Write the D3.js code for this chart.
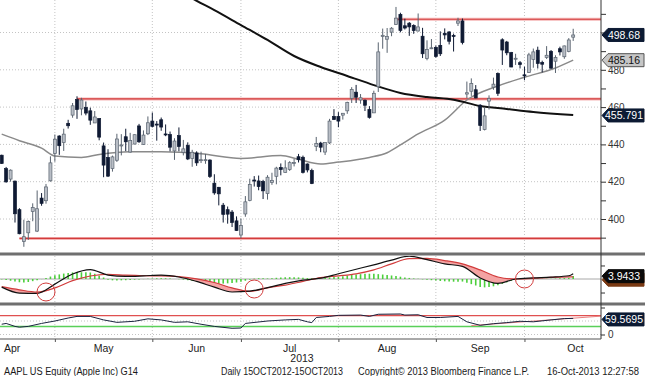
<!DOCTYPE html>
<html>
<head>
<meta charset="utf-8">
<script src="https://cdn.jsdelivr.net/npm/d3@7"></script>
<style>
  body { margin: 0; background: #fff; }
  svg { display: block; font-family: "Liberation Sans", Arial, sans-serif; }
</style>
</head>
<body>
<svg id="chart" width="645" height="376"></svg>
<script>
// Daily candles, 12-Apr-2013 .. 15-Oct-2013 (one entry per trading day)
const open  = [434.2,427.0,421.4,420.3,405.0,388.0,392.6,404.0,393.5,411.2,409.8,420.5,435.1,
  444.5,441.0,451.3,455.7,464.0,459.0,459.8,458.0,451.5,453.9,439.2,433.0,427.0,431.5,439.3,444.1,435.9,440.2,449.9,440.0,445.7,452.5,
  450.9,453.2,445.6,445.3,436.5,444.7,435.7,439.5,432.5,435.4,431.4,431.6,431.6,419.2,417.0,407.4,405.0,403.7,399.0,391.4,
  402.7,410.0,420.9,420.4,420.1,413.6,419.6,422.9,427.6,425.0,426.5,429.7,433.4,433.1,429.5,426.0,438.9,440.7,435.9,440.8,455.0,455.0,
  455.7,458.0,464.7,468.0,463.8,463.7,458.7,456.9,470.9,497.9,496.4,500.2,504.3,509.7,503.6,505.0,503.8,500.8,498.0,486.0,491.7,492.0,
  493.1,499.6,500.3,498.4,505.0,506.2,467.0,468.5,469.3,461.0,448.0,463.2,470.7,478.0,496.1,494.9,489.2,486.0,483.8,477.3,
  478.5,485.6,490.5,483.9,486.6,489.9,484.6,491.3,487.0,489.8,497.5];
const high  = [434.5,427.9,426.6,420.6,405.8,399.6,399.2,408.4,415.3,413.9,418.8,433.6,445.3,
  444.9,448.4,453.2,462.2,465.8,465.0,463.0,459.7,457.9,454.0,441.0,437.4,434.0,445.7,445.5,448.4,446.2,445.3,451.0,447.5,455.0,457.1,
  452.5,454.4,450.7,446.9,443.3,449.1,442.4,441.1,437.1,436.3,436.1,434.9,432.0,424.0,417.2,408.6,406.7,404.8,401.4,400.3,
  412.3,421.6,423.0,423.3,421.0,423.5,424.8,428.0,429.8,431.5,431.0,432.2,434.9,434.0,429.8,427.0,444.0,441.4,441.0,453.7,458.9,457.3,
  456.8,462.9,470.7,471.9,467.0,464.1,460.5,468.8,494.7,502.1,502.4,502.9,513.7,510.6,507.4,505.6,504.4,510.2,502.5,495.8,496.5,493.0,
  500.6,502.2,500.7,499.4,507.9,507.5,473.7,475.4,471.8,461.6,459.7,466.3,475.8,478.6,496.9,495.5,489.6,488.6,484.7,481.7,
  489.1,491.4,492.4,484.9,492.7,490.6,487.8,492.4,493.0,497.0,502.0];
const low   = [429.5,419.5,420.0,398.1,391.8,385.1,388.8,398.8,393.0,407.1,408.2,420.0,430.7,
  434.4,436.5,448.5,454.3,453.7,455.6,455.6,450.5,451.5,442.2,422.4,422.5,425.4,430.6,434.1,436.4,435.6,440.0,440.8,439.8,445.0,449.1,
  442.0,447.3,444.4,436.3,431.7,436.3,434.1,431.6,428.0,428.5,430.0,429.6,422.0,413.0,407.3,398.1,397.5,395.7,393.6,389.6,
  401.2,409.5,417.4,415.4,410.7,410.4,418.3,418.6,423.4,424.8,425.8,428.2,430.3,424.4,425.0,418.7,436.4,435.8,434.3,440.2,453.3,449.2,
  453.3,456.4,462.2,462.2,461.8,457.9,453.8,456.9,468.1,491.3,489.1,498.0,504.0,500.1,501.6,498.2,499.3,500.5,486.3,485.1,491.1,486.5,
  487.4,496.3,493.6,489.8,503.5,493.6,464.8,466.0,464.7,447.2,447.5,458.7,469.3,466.0,482.6,487.8,481.4,482.6,480.7,474.4,
  478.4,481.1,480.7,478.6,485.8,480.5,478.3,487.7,485.9,489.4,495.5];
const close = [429.8,419.9,426.2,402.8,392.1,390.5,398.7,406.1,405.5,408.4,417.2,430.1,442.8,
  439.3,445.5,450.0,460.7,458.7,463.8,456.8,453.0,454.7,443.9,428.9,423.0,433.3,442.9,439.7,441.4,442.1,445.2,441.4,445.0,451.6,449.7,
  450.7,449.3,445.1,438.5,441.8,438.9,437.6,432.2,435.8,430.1,431.8,431.8,422.8,414.0,413.5,402.5,402.6,398.1,393.8,396.5,
  409.2,418.5,420.8,417.4,415.1,422.4,420.7,427.3,426.5,427.4,430.2,430.3,431.8,425.0,426.3,419.0,440.5,438.5,441.0,452.5,453.3,452.5,
  456.7,462.5,469.5,465.3,465.0,461.0,454.5,467.4,489.6,498.5,497.9,502.3,507.7,501.1,502.4,503.0,501.0,503.0,488.6,490.9,491.8,487.2,
  488.6,498.7,495.3,498.2,506.2,494.6,467.7,472.7,464.9,450.1,455.3,464.7,472.3,467.4,490.6,489.1,481.5,486.2,482.8,476.8,
  488.0,489.6,483.4,483.0,487.8,480.9,486.6,489.6,492.8,496.0,498.68];

// Moving averages (sampled at trading-day index)
const ma200Idx = [40,42,44,48,54,60,66,72,78,84,90,96,102,108,114,120,129];
const ma200    = [522.5,519.6,517,512,504,496,487.4,481.5,476.7,471.8,467.6,465.4,464,460.6,459,457.4,455.791];
const ma50Idx  = [0,4,9,12,18,22,29,36,45,54,63,67,72,76,83,87,90,94,100,105,112,118,125,129];
const ma50     = [445.5,442,438,433.8,433,434.6,436,436,435,432.5,434,432,429.5,430.5,433,435.5,439.7,445.6,453,463.8,471.3,476,481,485.16];

// Support / resistance lines: level and first trading-day index
const levelVals  = [389.6, 464.4, 507.1];
const levelStart = [4, 17, 89];

// MACD panel
const macdIdx = [0,4,8,12,16,20,24,28,32,36,40,44,48,52,56,60,64,68,72,76,80,84,88,92,96,100,104,108,112,116,120,124,128,129];
const macdLine = [-6.0,-10.4,-10.6,-3.8,3.7,7.0,2.9,1.9,2.3,2.9,1.5,-1.8,-6.0,-9.6,-9.0,-6.4,-3.2,-0.8,0.6,3.9,7.2,10.5,14.0,16.9,14.3,11.2,9.3,0.8,-3.2,0.0,0.8,1.4,2.4,3.9433];
const macdSignal = [-5.7,-8.0,-9.6,-6.6,-1.2,2.2,3.5,2.8,2.4,2.3,1.7,0.1,-2.6,-6.6,-9.2,-6.5,-4.5,-1.8,1.0,2.3,3.8,6.7,11.2,15.0,15.2,13.6,11.2,6.7,1.5,0.0,0.5,1.2,1.5,1.6];
const macdHist = [-0.3,-0.8,-1.3,-1.8,-2.4,-2.5,-2.2,-1.6,-1.0,-0.1,0.8,1.8,2.8,
  3.4,4.0,4.5,4.9,5.0,5.0,4.9,4.8,3.9,2.6,1.1,-0.6,
  -1.0,-1.1,-1.0,-0.9,-0.7,-0.5,-0.3,-0.1,0.1,0.3,0.5,0.6,
  0.5,0.3,0.0,-0.2,-0.5,-0.9,-1.4,-1.9,-2.3,-2.7,-3.1,-3.4,
  -3.5,-3.4,-3.2,-3.0,-2.6,-2.0,-1.3,-0.5,0.3,0.6,0.5,0.4,
  0.6,0.9,1.1,1.3,1.4,1.3,1.2,1.0,0.7,0.5,0.4,0.5,
  0.8,1.2,1.5,1.6,2.0,2.5,3.0,3.4,3.6,3.8,3.9,3.8,
  3.6,3.3,3.0,2.6,2.2,1.7,1.2,0.8,0.4,0.1,-0.3,-0.6,
  -0.9,-1.2,-1.5,-1.7,-1.9,-2.0,-2.0,-1.9,-2.8,-3.8,-4.8,-5.9,
  -6.2,-6.0,-5.4,-4.7,-3.6,-2.5,-1.4,-0.5,0.0,0.1,0.2,0.3,
  0.3,0.2,0.2,0.2,0.3,0.5,0.7,0.9,2.3];
const crossIdx = [10, 57, 118];
const crossVal = [-9.6, -7.4, 0.0];

// RSI panel
const rsiIdx = [0,1,3,4,6,9,12,15,17,20,23,26,30,33,36,39,42,45,48,52,54,55,60,64,67,69,70,71,74,76,81,83,85,90,91,94,96,99,103,105,108,111,114,117,120,124,127,129];
const rsi    = [38,41,30,27,30,41,50,61,67,67,54,45,49,58,54,45,47,38,30,23,24,41,50,54,56,47,44,63,67,71,72,67,75,76,72,73,63,63,67,47,34,40,44,49,47,54,59,59.5695];
const rsiTrendIdx = [106, 135.3];
const rsiTrendVal = [33, 68];

// Time axis
const monthNames = ["Apr","May","Jun","Jul","Aug","Sep","Oct"];
const monthEnds  = [-10, 12, 34, 54, 76, 98, 118, 141];
const priceTicks = [390,400,410,420,430,440,450,460,470,480,490,500,510];
const priceLabels = [400,420,440,460,480]; // 500 sits under the last-price tag

const svg = d3.select("#chart");
const axisX = 601;

const x  = d3.scaleLinear().domain([0, 129]).range([1.7, 573.2]);
const yP = d3.scaleLinear().domain([400, 500]).range([219, 32.5]);
const yM = d3.scaleLinear().domain([-17, 17]).range([302, 256]);
const yR = d3.scaleLinear().domain([0, 100]).range([334.5, 307.5]);

const defs = svg.append("defs");
[["clipMain", 0, 252], ["clipMacd", 256, 46], ["clipRsi", 306, 33]].forEach(([id, y0, h]) => {
  defs.append("clipPath").attr("id", id).append("rect")
    .attr("x", 0).attr("y", y0).attr("width", axisX).attr("height", h);
});

const gridX = monthEnds.slice(1, -1).map(d => x(d));

// vertical dotted grid in the three panels
[[0, 252], [256, 302], [306, 338]].forEach(([a, b]) => {
  svg.append("g").selectAll("line").data(gridX).join("line")
    .attr("x1", d => d).attr("x2", d => d).attr("y1", a).attr("y2", b)
    .attr("stroke", "#c4c4c4").attr("stroke-dasharray", "1,2");
});

// ---------- price panel ----------
const main = svg.append("g").attr("clip-path", "url(#clipMain)");

main.selectAll("line.hgrid").data(d3.range(400, 501, 20)).join("line")
  .attr("x1", 0).attr("x2", axisX).attr("y1", d => yP(d)).attr("y2", d => yP(d))
  .attr("stroke", "#c4c4c4").attr("stroke-dasharray", "1,2");

levelVals.forEach((v, k) => {
  main.append("line").attr("x1", x(levelStart[k])).attr("x2", axisX)
    .attr("y1", yP(v)).attr("y2", yP(v)).attr("stroke", "#f5b5b5").attr("stroke-width", 3);
  main.append("line").attr("x1", x(levelStart[k])).attr("x2", axisX)
    .attr("y1", yP(v)).attr("y2", yP(v)).attr("stroke", "#d23c3c").attr("stroke-width", 1.2);
});

const maLine = d3.line().x(d => x(d[0])).y(d => yP(d[1])).curve(d3.curveMonotoneX);
main.append("path").datum(ma50Idx.map((d, k) => [d, ma50[k]]))
  .attr("d", maLine).attr("fill", "none").attr("stroke", "#8a8a8a").attr("stroke-width", 1.5);
main.append("path").datum(ma200Idx.map((d, k) => [d, ma200[k]]))
  .attr("d", maLine).attr("fill", "none").attr("stroke", "#111").attr("stroke-width", 2);

const candles = close.map((c, i) => ({ i, o: open[i], h: high[i], l: low[i], c }));
const upCol = "#b9bec6", upEdge = "#59636f", dnCol = "#0f1a33";
main.selectAll("line.wick").data(candles).join("line")
  .attr("x1", d => x(d.i)).attr("x2", d => x(d.i))
  .attr("y1", d => yP(d.h)).attr("y2", d => yP(d.l))
  .attr("stroke", d => d.c >= d.o ? upEdge : dnCol).attr("stroke-width", 1);
main.selectAll("rect.body").data(candles).join("rect")
  .attr("x", d => x(d.i) - 1.5).attr("width", 3)
  .attr("y", d => yP(Math.max(d.o, d.c)))
  .attr("height", d => Math.max(1, Math.abs(yP(d.o) - yP(d.c))))
  .attr("fill", d => d.c >= d.o ? upCol : dnCol)
  .attr("stroke", d => d.c >= d.o ? upEdge : dnCol).attr("stroke-width", 0.7);

// ---------- MACD panel ----------
const macd = svg.append("g").attr("clip-path", "url(#clipMacd)");
macd.append("line").attr("x1", 0).attr("x2", axisX).attr("y1", yM(0)).attr("y2", yM(0))
  .attr("stroke", "#a8a8a8");
macd.selectAll("line.hist").data(macdHist).join("line")
  .attr("x1", (d, i) => x(i)).attr("x2", (d, i) => x(i))
  .attr("y1", yM(0)).attr("y2", d => yM(d))
  .attr("stroke", "#4ccf3c").attr("stroke-width", 1.6);

const mPts = macdIdx.map((d, k) => ({ i: d, m: macdLine[k], s: macdSignal[k] }));
macd.append("path").datum(mPts)
  .attr("d", d3.area().x(d => x(d.i)).y0(d => yM(d.s)).y1(d => yM(Math.min(d.m, d.s))).curve(d3.curveMonotoneX))
  .attr("fill", "#f4a3a3");
macd.append("path").datum(mPts)
  .attr("d", d3.line().x(d => x(d.i)).y(d => yM(d.s)).curve(d3.curveMonotoneX))
  .attr("fill", "none").attr("stroke", "#d23c3c").attr("stroke-width", 1.2);
macd.append("path").datum(mPts)
  .attr("d", d3.line().x(d => x(d.i)).y(d => yM(d.m)).curve(d3.curveMonotoneX))
  .attr("fill", "none").attr("stroke", "#111").attr("stroke-width", 1.2);
svg.selectAll("circle.cross").data(crossIdx).join("circle")
  .attr("cx", d => x(d)).attr("cy", (d, k) => yM(crossVal[k])).attr("r", 9)
  .attr("fill", "none").attr("stroke", "#d23c3c").attr("stroke-width", 1);

// ---------- RSI panel ----------
const rs = svg.append("g").attr("clip-path", "url(#clipRsi)");
[0, 50].forEach(v => rs.append("line").attr("x1", 0).attr("x2", axisX)
  .attr("y1", yR(v)).attr("y2", yR(v)).attr("stroke", "#c4c4c4").attr("stroke-dasharray", "1,2"));
const rPts = rsiIdx.map((d, k) => ({ i: d, v: rsi[k] }));
rs.append("path").datum(rPts)
  .attr("d", d3.area().x(d => x(d.i)).y0(yR(70)).y1(d => yR(Math.max(70, d.v))))
  .attr("fill", "#f4b4b4");
rs.append("line").attr("x1", 0).attr("x2", axisX).attr("y1", yR(70)).attr("y2", yR(70))
  .attr("stroke", "#e05050").attr("stroke-width", 1.2);
rs.append("line").attr("x1", 0).attr("x2", axisX).attr("y1", yR(30)).attr("y2", yR(30))
  .attr("stroke", "#5ad05a").attr("stroke-width", 1.5);
rs.append("line").attr("x1", x(rsiTrendIdx[0])).attr("x2", x(rsiTrendIdx[1]))
  .attr("y1", yR(rsiTrendVal[0])).attr("y2", yR(rsiTrendVal[1]))
  .attr("stroke", "#e88080").attr("stroke-width", 1);
rs.append("path").datum(rPts)
  .attr("d", d3.line().x(d => x(d.i)).y(d => yR(d.v)))
  .attr("fill", "none").attr("stroke", "#1a2440").attr("stroke-width", 1);

// ---------- separators and axes ----------
[252.5, 302.5].forEach(y => svg.append("rect").attr("x", 0).attr("y", y)
  .attr("width", 645).attr("height", 3).attr("fill", "#6f6f6f"));
svg.append("line").attr("x1", axisX).attr("x2", axisX).attr("y1", 0).attr("y2", 339)
  .attr("stroke", "#333");

const pAxis = svg.append("g").attr("transform", `translate(${axisX},0)`)
  .call(d3.axisRight(yP).tickValues(priceTicks).tickSize(5)
    .tickFormat(d => priceLabels.includes(d) ? d : ""));
pAxis.select(".domain").remove();
pAxis.selectAll("line").attr("stroke", "#333");
pAxis.selectAll("text").attr("x", 7).attr("fill", "#333").style("font-size", "10px");

const mAxis = svg.append("g").attr("transform", `translate(${axisX},0)`)
  .call(d3.axisRight(yM).tickValues([-10, 10]).tickSize(4).tickFormat(""));
mAxis.select(".domain").remove();
mAxis.selectAll("line").attr("stroke", "#333");

const rAxis = svg.append("g").attr("transform", `translate(${axisX},0)`)
  .call(d3.axisRight(yR).tickValues([0, 100]).tickSize(4).tickFormat(d => d === 0 ? "0" : ""));
rAxis.select(".domain").remove();
rAxis.selectAll("line").attr("stroke", "#333");
rAxis.selectAll("text").attr("x", 7).attr("fill", "#333").style("font-size", "10px");

svg.append("line").attr("x1", 0).attr("x2", axisX).attr("y1", 339).attr("y2", 339)
  .attr("stroke", "#555");
const xAxis = svg.append("g").attr("transform", "translate(0,339)")
  .call(d3.axisBottom(x).tickValues(monthEnds.slice(1, -1)).tickSize(3).tickFormat(""));
xAxis.select(".domain").remove();
xAxis.selectAll("line").attr("stroke", "#555");

monthNames.forEach((m, k) => {
  const cx = (x(monthEnds[k]) + x(monthEnds[k + 1])) / 2;
  const t = svg.append("text").attr("y", 352).attr("fill", "#222")
    .style("font-size", "10.5px").text(m);
  if (cx < 12) t.attr("x", 4); else t.attr("x", cx).attr("text-anchor", "middle");
});
svg.append("text").attr("x", 302).attr("y", 362).attr("text-anchor", "middle")
  .attr("fill", "#222").style("font-size", "10.5px").text("2013");

// ---------- value tags on the right ----------
function tag(yc, label, fill, color, edge) {
  const g = svg.append("g");
  g.append("path")
    .attr("d", `M${axisX + 1},${yc} L${axisX + 7},${yc - 6.5} L644,${yc - 6.5} L644,${yc + 6.5} L${axisX + 7},${yc + 6.5} Z`)
    .attr("fill", fill).attr("stroke", edge || fill).attr("stroke-width", 1);
  g.append("text").attr("x", 624).attr("y", yc + 3.6).attr("text-anchor", "middle")
    .attr("fill", color).style("font-size", "10.5px").text(label);
}
tag(yP(close[close.length - 1]), "498.68", "#0c1a33", "#fff");
tag(yP(ma50[ma50.length - 1]), "485.16", "#c6c6c6", "#111", "#555");
tag(yP(ma200[ma200.length - 1]) + 0.5, "455.791", "#0c1a33", "#fff");
tag(yM(macdLine[macdLine.length - 1]) + 6, "", "#7a3a14", "#fff");
tag(yM(macdLine[macdLine.length - 1]) + 2.5, "3.9433", "#0a0a0a", "#fff");
tag(yR(rsi[rsi.length - 1]) + 1, "59.5695", "#0c1a33", "#fff");

// ---------- footer ----------
const footer = [
  ["AAPL US Equity (Apple Inc) G14", 4, 134],
  ["Daily 15OCT2012-15OCT2013", 221, 122],
  ["Copyright\u00a9 2013 Bloomberg Finance L.P.", 358, 171],
  ["16-Oct-2013 12:27:58", 547, 92]
];
svg.selectAll("text.foot").data(footer).join("text")
  .attr("x", d => d[1]).attr("y", 374.5)
  .attr("textLength", d => d[2]).attr("lengthAdjust", "spacingAndGlyphs")
  .attr("fill", "#1a1a1a").style("font-size", "10px").text(d => d[0]);
</script>
</body>
</html>
